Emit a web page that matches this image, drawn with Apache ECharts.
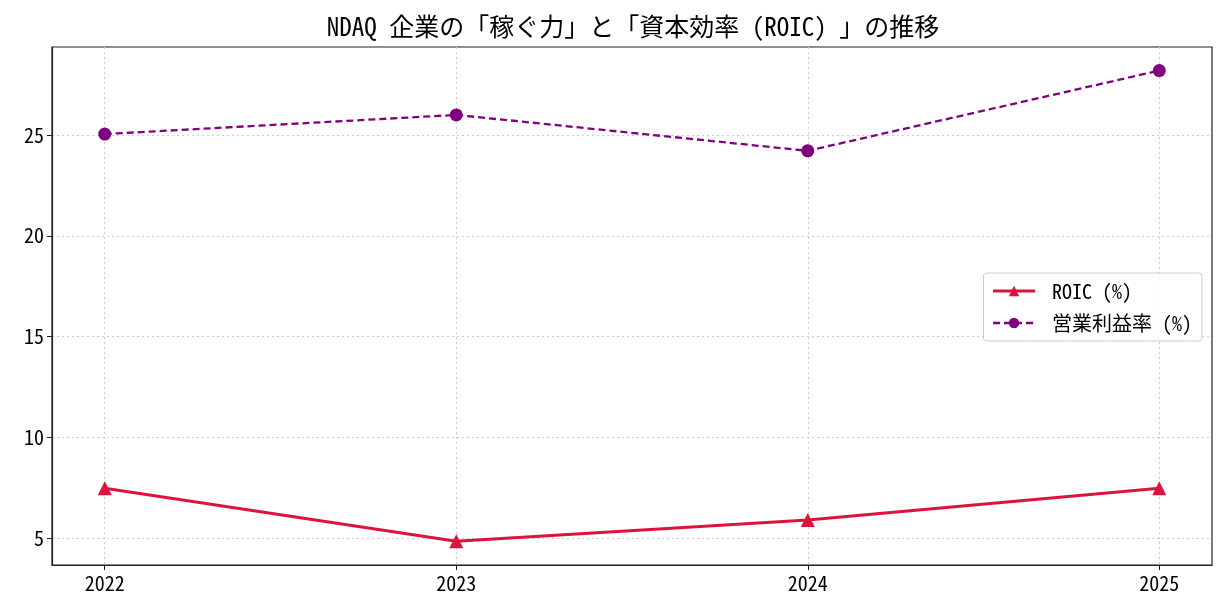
<!DOCTYPE html>
<html>
<head>
<meta charset="utf-8">
<script src="https://cdn.jsdelivr.net/npm/echarts@6/dist/echarts.min.js"></script>
<style>
  html, body { margin: 0; padding: 0; background: #fff; }
  #chart { width: 1228px; height: 616px; }
</style>
</head>
<body>
<div id="chart"></div>
<script>
// 年度と各指標
const years = [2022, 2023, 2024, 2025];
const roic = [7.48, 4.85, 5.9, 7.48];
const opMargin = [25.05, 26.0, 24.22, 28.2];
const yTicks = [5, 10, 15, 20, 25];

const FONT = "'Noto Sans Mono CJK JP', 'Noto Sans CJK JP', sans-serif";

const chart = echarts.init(document.getElementById('chart'));

chart.setOption({
  backgroundColor: '#fff',
  animation: false,
  textStyle: { fontFamily: FONT },
  title: {
    text: 'NDAQ 企業の「稼ぐ力」と「資本効率 (ROIC) 」の推移',
    left: 628,
    textAlign: 'center',
    top: 9,
    textStyle: { fontFamily: FONT, fontSize: 25, fontWeight: 'normal', color: '#000' }
  },
  grid: {
    left: 52, right: 16, top: 47, bottom: 51,
    show: true, borderColor: '#222', borderWidth: 1.2, backgroundColor: 'transparent'
  },
  legend: {
    orient: 'vertical',
    right: 26,
    top: 273,
    padding: [8, 10, 8, 8],
    itemGap: 12,
    itemWidth: 42,
    itemHeight: 13,
    backgroundColor: 'rgba(255,255,255,0.85)',
    borderColor: '#ccc',
    borderWidth: 1,
    borderRadius: 3,
    textStyle: { fontFamily: FONT, fontSize: 20, color: '#000', padding: [0, 0, 0, 12] },
    data: [
      { name: 'ROIC (%)', lineStyle: { width: 3 } },
      { name: '営業利益率 (%)', lineStyle: { width: 2.5 } }
    ]
  },
  xAxis: {
    type: 'value',
    min: 2021.85,
    max: 2025.15,
    axisLine: { show: true, onZero: false, lineStyle: { color: '#222', width: 1.2 } },
    axisTick: { show: true, length: 5, customValues: years, lineStyle: { color: '#222' } },
    axisLabel: {
      color: '#000', fontSize: 20, fontFamily: FONT, margin: 8,
      customValues: years,
      formatter: v => String(v)
    },
    splitLine: { show: true, lineStyle: { color: '#ccc', type: [2, 3], width: 1 } }
  },
  yAxis: {
    type: 'value',
    min: 3.67,
    max: 29.37,
    axisLine: { show: true, lineStyle: { color: '#222', width: 1.2 } },
    axisTick: { show: true, length: 5, customValues: yTicks, lineStyle: { color: '#222' } },
    axisLabel: {
      color: '#000', fontSize: 20, fontFamily: FONT, margin: 8,
      customValues: yTicks,
      formatter: v => String(v)
    },
    splitLine: { show: true, lineStyle: { color: '#ccc', type: [2, 3], width: 1 } }
  },
  series: [
    {
      name: 'ROIC (%)',
      type: 'line',
      data: years.map((y, i) => [y, roic[i]]),
      symbol: 'triangle',
      symbolSize: 14,
      lineStyle: { color: '#DC143C', width: 3 },
      itemStyle: { color: '#DC143C' },
      z: 3
    },
    {
      name: '営業利益率 (%)',
      type: 'line',
      data: years.map((y, i) => [y, opMargin[i]]),
      symbol: 'circle',
      symbolSize: 13,
      lineStyle: { color: '#800080', width: 2.3, type: [7, 4] },
      itemStyle: { color: '#800080' },
      z: 3
    }
  ]
});
</script>
</body>
</html>
